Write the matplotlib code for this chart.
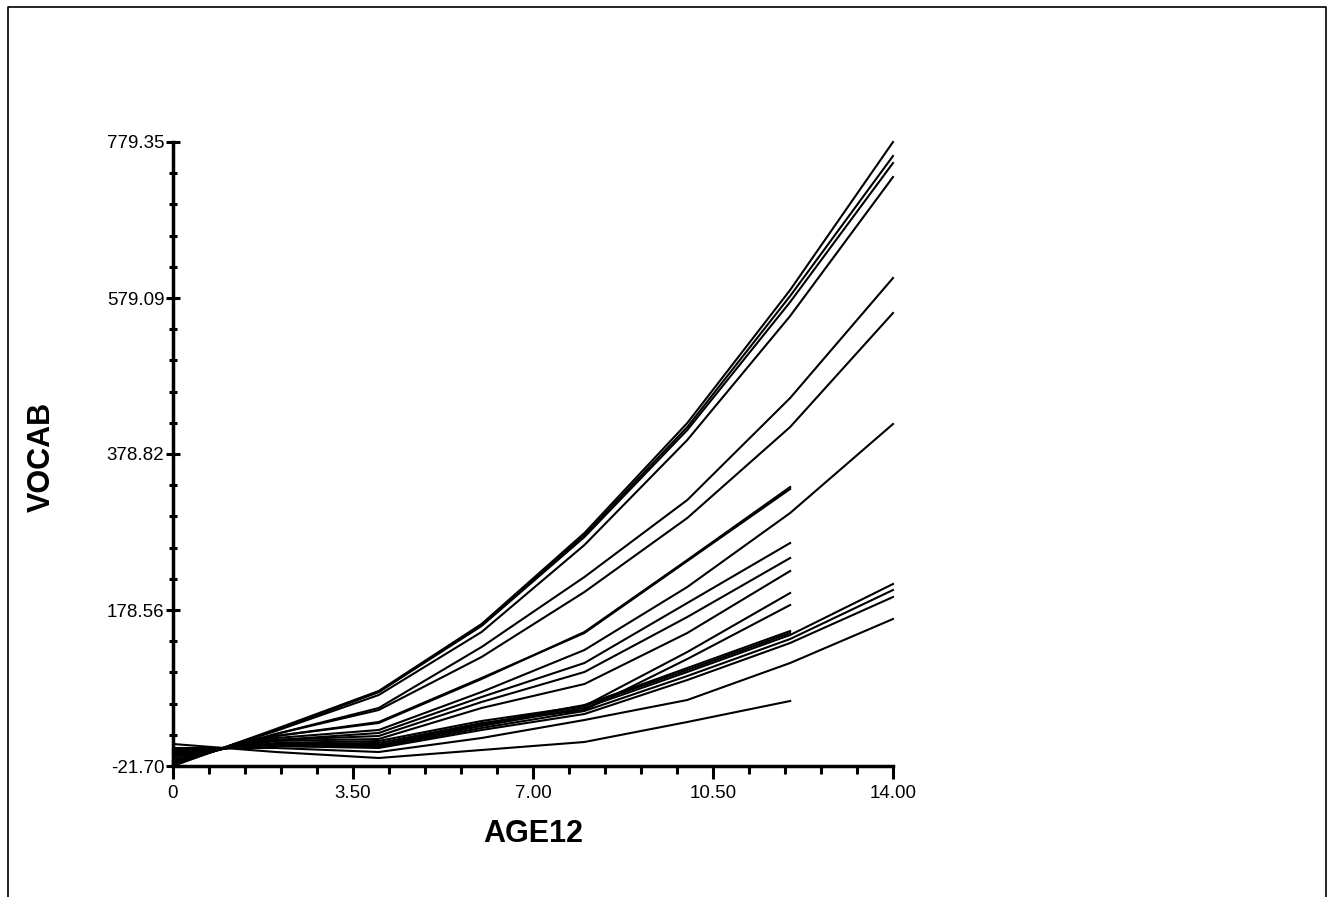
import numpy as np
import matplotlib.pyplot as plt
from matplotlib.lines import Line2D

plt.rcParams['font.family'] = ['Liberation Sans', 'DejaVu Sans']

age12 = [0, 2, 4, 6, 8, 10, 12, 14]

# children followed up to AGE12 = 14
vocab_to14 = [
    [-21.70, 25.80, 74.58, 160.59, 277.41, 418.62, 589.36, 779.35],
    [-20.42, 24.51, 73.30, 159.31, 274.84, 413.48, 581.65, 761.37],
    [-20.42, 24.51, 73.30, 158.02, 272.28, 409.63, 573.95, 752.39],
    [-19.13, 23.23, 69.44, 150.32, 262.01, 396.80, 555.98, 734.42],
    [-17.85, 19.38, 52.76, 131.06, 220.93, 319.77, 450.71, 604.76],
    [-16.57, 19.38, 50.19, 118.23, 201.67, 296.66, 413.48, 559.83],
    [-12.71, 14.24, 24.51, 73.30, 127.21, 208.09, 303.08, 417.33],
    [-2.44, 5.26, 3.97, 29.65, 52.76, 98.97, 146.47, 211.94],
    [-1.16, 3.97, 2.69, 27.08, 48.91, 93.84, 141.33, 204.24],
    [-1.16, 3.97, 1.41, 24.51, 45.05, 88.70, 136.20, 195.25],
    [1.41, 1.41, -3.73, 14.24, 37.35, 63.03, 110.53, 167.01],
]

# children followed up to AGE12 = 12
vocab_to12 = [
    [-15.28, 16.81, 33.50, 89.98, 150.32, 242.75, 336.46],
    [-15.28, 16.81, 34.78, 91.27, 149.04, 241.47, 333.89],
    [-10.15, 11.68, 20.66, 66.87, 110.53, 187.55, 264.57],
    [-8.86, 11.68, 16.81, 60.46, 98.97, 169.58, 245.32],
    [-7.58, 10.39, 12.96, 52.76, 83.56, 149.04, 228.63],
    [-6.30, 7.83, 10.39, 36.07, 55.32, 124.65, 200.39],
    [-5.01, 6.54, 7.83, 33.50, 50.19, 115.66, 184.98],
    [-3.73, 6.54, 5.26, 32.22, 56.61, 104.11, 151.60],
    [-3.73, 5.26, 5.26, 30.93, 55.32, 101.54, 149.04],
    [6.54, -3.73, -11.43, -1.16, 9.11, 34.78, 61.74],
]

xticks = [0, 3.5, 7, 10.5, 14]
xtick_labels = ['0', '3.50', '7.00', '10.50', '14.00']
ytick_labels = ['-21.70', '178.56', '378.82', '579.09', '779.35']
ymin, ymax = -21.70, 779.35

fig = plt.figure(figsize=(13.31, 8.97), dpi=100)
ax = fig.add_axes([173/1331, 131/897, 720/1331, 624/897])

for v in vocab_to14 + vocab_to12:
    ax.plot(age12[:len(v)], v, color='black', lw=1.5, clip_on=False)

ax.set_xlim(0, 14)
ax.set_ylim(ymin, ymax)
ax.set_xticks(xticks)
ax.set_xticklabels(xtick_labels)
ax.set_xticks(np.linspace(0, 14, 21), minor=True)
ax.set_yticks(np.linspace(ymin, ymax, 5))
ax.set_yticklabels(ytick_labels)
ax.set_yticks(np.linspace(ymin, ymax, 21), minor=True)

for s in ['top', 'right']:
    ax.spines[s].set_visible(False)
for s in ['left', 'bottom']:
    ax.spines[s].set_linewidth(2.5)

ax.tick_params(axis='x', which='major', direction='out', length=9.5, width=2.2,
               labelsize=13.5, pad=4)
ax.tick_params(axis='x', which='minor', direction='out', length=6, width=2.2)
ax.tick_params(axis='y', which='major', direction='inout', length=9.5, width=2.2,
               labelsize=13.5, pad=1.5)
ax.tick_params(axis='y', which='minor', direction='inout', length=6, width=2.2)

ax.set_xlabel('AGE12', fontsize=22, fontweight='bold', va='center')
ax.xaxis.set_label_coords(0.5, (766 - 834) / 624)
ax.set_ylabel('VOCAB', fontsize=22, fontweight='bold', va='center')
ax.yaxis.set_label_coords((42 - 173) / 720, 0.495)

# outer frame (open at the bottom)
fx0, fx1, fy1 = 8/1331, 1326/1331, 1 - 7/897
fig.add_artist(Line2D([fx0, fx0, fx1, fx1], [0, fy1, fy1, 0], color='black', lw=1.2))

fig.savefig('out.png', dpi=100)
